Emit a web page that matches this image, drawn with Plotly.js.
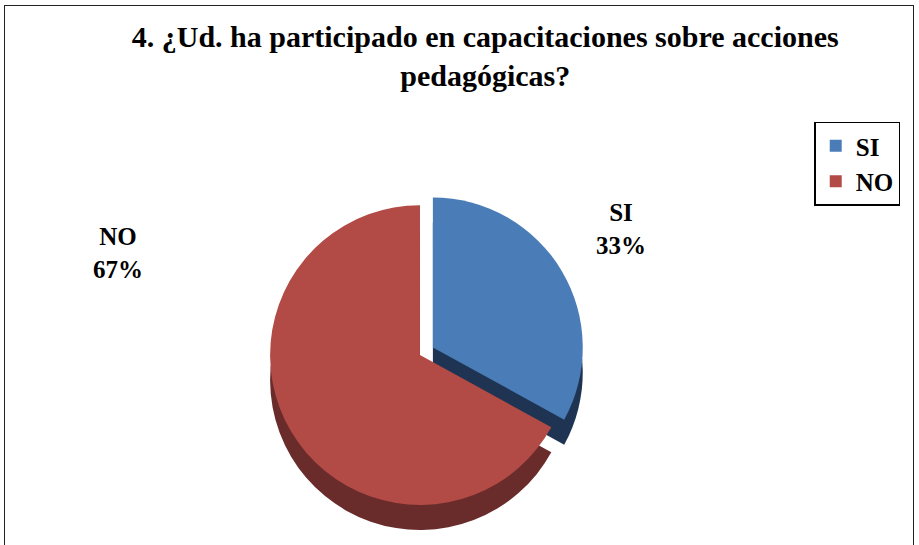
<!DOCTYPE html>
<html>
<head>
<meta charset="utf-8">
<script src="https://cdn.plot.ly/plotly-3.0.1.min.js"></script>
<style>
  html, body { margin: 0; padding: 0; background: #fff; }
  #chart { width: 919px; height: 545px; }
  #frame { position: absolute; left: 4px; top: 5px; width: 910px; height: 560px;
           border: 1.5px solid #222; pointer-events: none; box-sizing: border-box; }
</style>
</head>
<body>
<div id="chart"></div>
<div id="frame"></div>
<script>
const categories = ["SI", "NO"];
const values = [33, 67];
const topColors = ["#4A7DB8", "#B24A46"];
const sideColors = ["#1F3452", "#6A2C2A"];
const titleText = "4. ¿Ud. ha participado en capacitaciones sobre acciones<br>pedagógicas?";

const FONT = "'Liberation Serif', 'Times New Roman', serif";
const total = values.reduce((a, b) => a + b, 0);
const pct = values.map(v => Math.round(v / total * 100) + "%");

const depthTrace = {
  type: "pie", labels: categories, values: values, sort: false,
  direction: "clockwise", rotation: 0, pull: [0.1, 0],
  marker: { colors: sideColors, line: { width: 0 } },
  textinfo: "none", hoverinfo: "skip", showlegend: false,
  domain: { x: [0.15, 0.764], y: [0.0, 0.605] }
};
const faceTrace = {
  type: "pie", labels: categories, values: values, sort: false,
  direction: "clockwise", rotation: 0, pull: [0.1, 0],
  marker: { colors: topColors, line: { width: 0 } },
  textinfo: "none", hoverinfo: "label+percent",
  domain: { x: [0.15, 0.764], y: [0.046, 0.651] }
};

const labelPos = [[0.705, 0.58], [0.099, 0.535]];
const annotations = categories.map((c, i) => ({
  text: c + "<br>" + pct[i],
  x: labelPos[i][0], y: labelPos[i][1], xref: "paper", yref: "paper",
  showarrow: false, font: { family: FONT, size: 25, color: "#000", weight: "bold" }
}));

const layout = {
  width: 919, height: 545,
  margin: { l: 0, r: 0, t: 0, b: 0 },
  paper_bgcolor: "#fff",
  title: { text: titleText, x: 0.528, xanchor: "center", y: 0.913, yanchor: "top",
           font: { family: FONT, size: 30, color: "#000", weight: "bold" } },
  showlegend: true,
  legend: { x: 0.886, y: 0.777, xanchor: "left", yanchor: "top",
            bordercolor: "#000", borderwidth: 1.5, bgcolor: "#fff",
            font: { family: FONT, size: 25, color: "#000", weight: "bold" }, traceorder: "normal" },
  annotations: annotations
};

Plotly.newPlot("chart", [depthTrace, faceTrace], layout, { displayModeBar: false, staticPlot: true });
</script>
</body>
</html>
